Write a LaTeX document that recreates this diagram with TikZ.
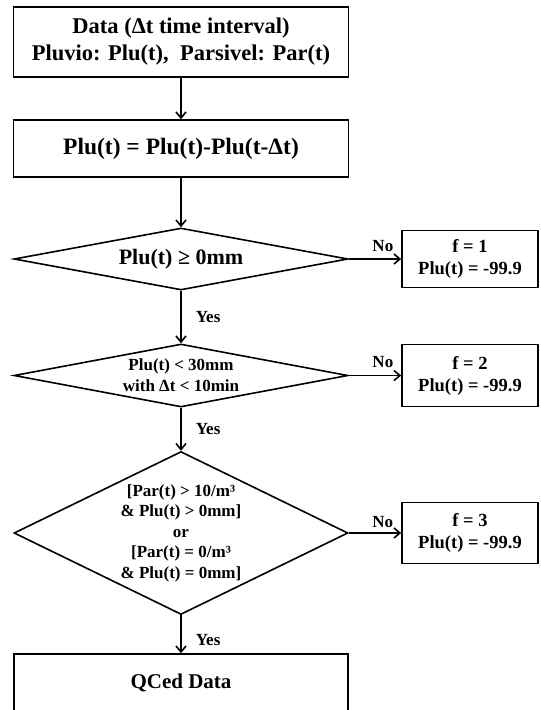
\documentclass[tikz,border=0pt]{standalone}
\usepackage{fontspec}
\setmainfont{Liberation Serif}
\usetikzlibrary{shapes.geometric,arrows.meta}
\begin{document}
\begin{tikzpicture}[>={Straight Barb[length=6pt,width=10pt]},x=1pt,y=-1pt,line width=1.6pt,
	box/.style={draw,rectangle,inner sep=0pt,align=center,minimum width=335pt,font=\bfseries\fontsize{22.5}{27}\selectfont},
	decision/.style={draw,diamond,inner sep=0pt,align=center,minimum width=334pt},
	flag/.style={draw,rectangle,inner sep=0pt,align=center,minimum width=136pt,font=\bfseries\fontsize{18.5}{22}\selectfont},
	lbl/.style={inner sep=2pt,font=\bfseries\fontsize{17}{20}\selectfont}]
		\useasboundingbox (0,0) rectangle (541,710);
		\clip (0,0) rectangle (541,710);
		\node[box,minimum height=70pt] (data) at (181,42) {Data (Δt time interval)\\Pluvio: Plu(t),\ \ Parsivel: Par(t)};
		\node[box,minimum height=57pt,font=\bfseries\fontsize{23.5}{27}\selectfont] (diff) at (181,148.5) {Plu(t) = Plu(t)-Plu(t-Δt)};
		\node[decision,aspect=5.4,minimum height=62pt,font=\bfseries\fontsize{22}{26}\selectfont] (geq) at (181,259) {Plu(t) ≥ 0mm};
		\node[decision,aspect=5.3,minimum height=63pt,font=\bfseries\fontsize{17}{21}\selectfont] (lt30) at (181,375.5) {Plu(t) < 30mm\\with Δt < 10min};
		\node[decision,aspect=2.05,minimum height=163pt,font=\bfseries\fontsize{17}{20.5}\selectfont] (par) at (181,533) {[Par(t) > 10/m³\\\& Plu(t) > 0mm]\\or\\{}[Par(t) = 0/m³\\\& Plu(t) = 0mm]};
		\node[box,minimum width=334pt,minimum height=58pt,font=\bfseries\fontsize{21}{25}\selectfont] (qc) at (181,683) {QCed Data};
		\node[flag,minimum height=57pt] (f1) at (470,259) {f = 1\\Plu(t) = -99.9};
		\node[flag,minimum height=62pt] (f2) at (470,375.5) {f = 2\\Plu(t) = -99.9};
		\node[flag,minimum height=61pt] (f3) at (470,533) {f = 3\\Plu(t) = -99.9};
		\draw[->] (data) -- (diff);
		\draw[->] (diff) -- (geq);
		\draw[->] (geq) -- node[lbl,right=12pt] {Yes} (lt30);
		\draw[->] (lt30) -- node[lbl,right=12pt] {Yes} (par);
		\draw[->] (par) -- node[lbl,pos=0.65,right=12pt] {Yes} (qc);
		\draw[->] (geq) -- node[lbl,pos=0.65,above=5pt] {No} (f1);
		\draw[->] (lt30) -- node[lbl,pos=0.65,above=5pt] {No} (f2);
		\draw[->] (par) -- node[lbl,pos=0.65,above=3pt] {No} (f3);
\end{tikzpicture}
\end{document}
